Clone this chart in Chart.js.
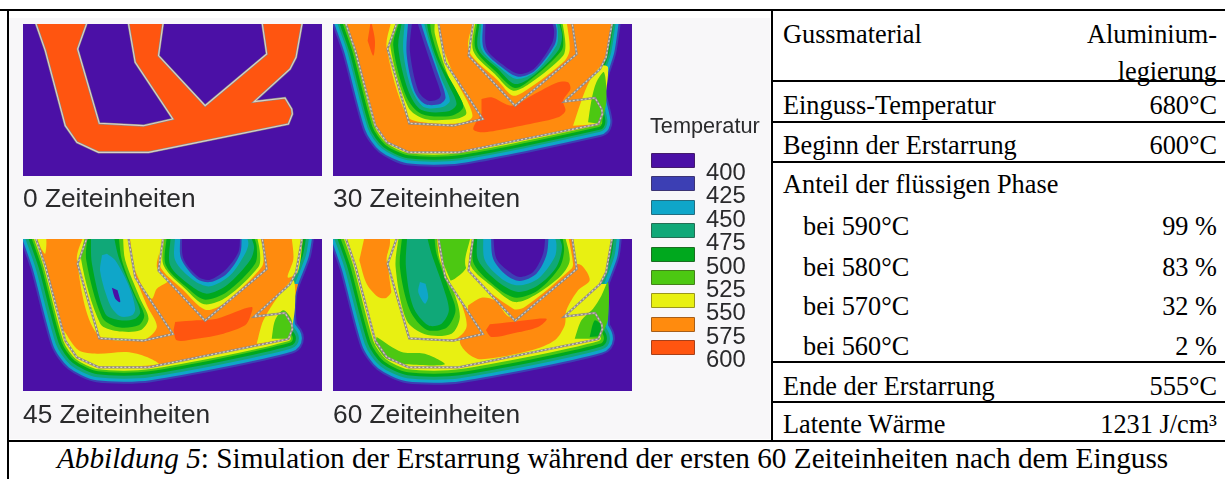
<!DOCTYPE html>
<html lang="de">
<head>
<meta charset="utf-8">
<title>Abbildung 5</title>
<script src="https://cdn.jsdelivr.net/npm/chart.js@4"></script>
<style>
  html, body { margin: 0; padding: 0; background: #fff; }
  #page { position: relative; width: 1225px; height: 479px; overflow: hidden; }
  #scan { position: absolute; left: 9px; top: 18px; width: 761px; height: 421px; background: #f8f7f9; }
  .line { position: absolute; background: #000; }
  .panel { position: absolute; width: 299px; height: 152px; background: #4b10a6; filter: blur(0.45px); }
  .panel canvas { display: block; }
  .sans { position: absolute; font-family: "Liberation Sans", sans-serif; color: #2a2a2c; white-space: nowrap; filter: blur(0.35px); }
  .swatch { position: absolute; left: 651px; width: 44px; height: 15px; border: 1px solid rgba(60,40,40,.45); border-radius: 1px; box-sizing: border-box; filter: blur(0.3px); }
  .serif { position: absolute; font-family: "Liberation Serif", serif; font-size: 26.3px; line-height: 30px; color: #000; white-space: nowrap; }
</style>
</head>
<body>
<div id="page"><div id="scan"></div></div>
<script>
// temperature bands, coldest first
const bandLabels = ["400", "425", "450", "475", "500", "525", "550", "575", "600"];
const bandColors = ["#4b10a6", "#3c3fb4", "#0fa6c9", "#10a878", "#00a81e", "#4cc812", "#e8f012", "#ff8b0e", "#ff5510"];

const panelLabels = ["0 Zeiteinheiten", "30 Zeiteinheiten", "45 Zeiteinheiten", "60 Zeiteinheiten"];

// casting outline
const casting = [[35,-12],[67,80],[127,305],[162,355],[227,385],[377,385],[797,300],[809,270],[807,255],[787,222],[694,233],[802,135],[820,100],[840,-12],[717,-12],[732,90],[547,245],[407,95],[422,-12],[315,-12],[337,115],[450,285],[362,305],[229,298],[164,75],[195,-12]];
// gap between the arm and the right limb
const notch = [[690,236],[802,135],[826,135],[800,240]];
// the two openings enclosed by the casting
const leftHole = [[195,-12],[164,75],[229,298],[362,305],[450,285],[337,115],[315,-12]];
const rightHole = [[422,-12],[407,95],[547,245],[732,90],[717,-12]];

// centre line of the outer bands per panel
const outer30 = [[35,-12],[67,80],[127,305],[162,355],[227,385],[377,385],[797,300],[800,290],[790,245],[782,210],[790,150],[812,80],[826,-12]];
const outer45 = [[35,-12],[67,80],[127,305],[162,355],[227,385],[377,385],[797,300],[780,270],[775,214],[782,144],[820,44],[830,-12]];
const outer60 = [[35,-12],[67,80],[127,305],[162,355],[227,385],[377,385],[797,300],[785,270],[783,214],[778,144],[813,44],[820,-12]];

// half widths of the bands outside the casting: 425, 450, 475, 500, 525, 550
const front30 = [13, 11, 8, 6, 3, 1];
const front45 = [15, 13, 10, 7, 4, 2];
const front60 = [16, 14, 11, 8, 5, 2];

// contour regions per panel: [temperature, points], painted in this order
const regions30 = [
  ["575", casting],
  ["575", notch],
  ["575", leftHole],
  ["575", rightHole],
  ["550", [[721,305],[746,230],[771,170],[806,125],[826,130],[816,230],[806,300]]],
  ["525", [[766,295],[776,230],[791,175],[814,145],[821,230],[806,300]]],
  ["550", [[176,-12],[161,70],[221,275],[270,295],[380,298],[418,280],[405,235],[370,170],[320,40],[318,-12]]],
  ["525", [[191,-12],[172,65],[226,250],[276,285],[366,285],[400,270],[386,230],[346,155],[306,30],[306,-12]]],
  ["500", [[201,-12],[181,65],[221,220],[266,270],[356,275],[391,250],[371,200],[326,120],[296,30],[291,-12]]],
  ["475", [[208,-12],[196,70],[226,200],[266,258],[346,262],[371,240],[346,180],[306,90],[286,20],[281,-12]]],
  ["450", [[216,-12],[211,80],[234,190],[271,248],[326,250],[351,230],[326,165],[291,60],[271,-12]]],
  ["425", [[226,-12],[221,90],[244,200],[276,240],[321,240],[338,220],[316,150],[281,50],[261,-12]]],
  ["400", [[238,-12],[231,80],[256,200],[286,230],[316,225],[324,210],[301,140],[271,50],[251,-12]]],
  ["550", [[421,-12],[408,80],[496,170],[541,215],[586,195],[696,110],[711,75],[701,-12]]],
  ["525", [[428,-12],[421,80],[486,150],[541,200],[596,175],[691,95],[698,60],[688,-12]]],
  ["500", [[434,-12],[428,75],[491,145],[546,192],[596,165],[686,80],[691,40],[681,-12]]],
  ["475", [[441,-12],[436,75],[496,135],[546,180],[601,155],[676,80],[688,35],[676,-12]]],
  ["450", [[446,-12],[446,75],[506,135],[551,165],[606,145],[671,65],[676,25],[671,-12]]],
  ["425", [[451,-12],[453,75],[511,133],[556,158],[606,140],[666,62],[672,22],[666,-12]]],
  ["400", [[458,-12],[462,75],[518,128],[561,150],[606,132],[658,58],[664,20],[656,-12]]],
  ["600", [[446,225],[476,220],[536,245],[596,215],[676,175],[706,175],[713,195],[691,230],[698,260],[676,280],[616,295],[516,315],[446,325],[421,315],[446,270]]],
  ["600", [[114,-12],[126,50],[121,95],[104,50]]]
];

const regions45 = [
  ["575", casting],
  ["575", notch],
  ["575", leftHole],
  ["575", rightHole],
  ["550", [[37,-12],[67,-12],[67,44],[55,30]]],
  ["550", [[122,274],[167,334],[222,344],[312,339],[372,354],[407,376],[232,382],[162,359],[127,309]]],
  ["550", [[320,-12],[417,-12],[402,84],[437,124],[402,149],[387,179],[362,149],[332,84]]],
  ["550", [[806,-12],[812,60],[795,115],[825,100],[842,-12]]],
  ["550", [[702,314],[722,244],[772,164],[812,124],[817,204],[802,299]]],
  ["525", [[747,299],[757,244],[782,214],[807,244],[802,299]]],
  ["550", [[182,-12],[162,64],[222,284],[362,302],[402,264],[372,199],[332,94],[317,-12]]],
  ["525", [[187,-12],[175,64],[232,254],[282,276],[352,274],[377,239],[352,179],[307,64],[300,-12]]],
  ["500", [[194,-12],[190,64],[237,234],[282,264],[347,259],[364,229],[337,169],[297,64],[287,-12]]],
  ["475", [[204,-12],[207,74],[247,224],[292,244],[337,239],[352,219],[327,154],[287,54],[272,-12]]],
  ["450", [[237,49],[232,99],[262,199],[292,232],[327,229],[337,209],[317,139],[277,64],[252,44]]],
  ["400", [[267,146],[277,179],[292,189],[284,154]]],
  ["550", [[419,-12],[410,79],[482,154],[547,212],[602,194],[717,84],[722,44],[712,-12]]],
  ["525", [[425,-12],[422,79],[492,154],[544,196],[612,174],[707,84],[712,44],[702,-12]]],
  ["500", [[432,-12],[429,79],[502,154],[547,182],[612,159],[697,74],[702,24],[692,-12]]],
  ["475", [[444,-12],[442,79],[502,139],[552,164],[612,139],[682,64],[694,24],[682,-12]]],
  ["450", [[457,-12],[457,64],[512,124],[562,142],[622,109],[667,44],[677,14],[670,-12]]],
  ["425", [[472,-12],[475,59],[522,119],[562,129],[612,104],[652,44],[657,-12]]],
  ["400", [[477,-12],[482,59],[527,114],[562,122],[607,94],[647,39],[652,-12]]],
  ["600", [[457,249],[522,244],[582,239],[687,204],[682,234],[667,259],[602,284],[522,299],[462,304],[452,274]]]
];

const regions60 = [
  ["550", casting],
  ["550", notch],
  ["575", leftHole],
  ["575", rightHole],
  ["575", [[96,-12],[166,-12],[171,14],[161,64],[181,144],[161,176],[136,174],[101,134],[79,64]]],
  ["525", [[131,294],[206,339],[276,344],[336,376],[226,376],[161,359],[126,314]]],
  ["525", [[316,-12],[416,-12],[401,84],[366,119],[341,124],[321,64]]],
  ["575", [[406,199],[446,176],[486,184],[536,234],[716,79],[746,79],[771,124],[736,154],[701,214],[696,259],[666,304],[596,334],[446,361],[406,344],[381,309],[401,274]]],
  ["525", [[726,299],[746,244],[781,209],[806,170],[826,130],[826,240],[806,289],[801,299]]],
  ["500", [[771,294],[786,244],[806,259],[801,292]]],
  ["550", [[186,-12],[163,64],[221,292],[366,299],[401,264],[386,194],[366,154],[321,44],[311,-12]]],
  ["525", [[198,-12],[188,84],[221,244],[276,286],[356,284],[381,234],[361,154],[321,64],[311,-12]]],
  ["500", [[208,-12],[201,84],[231,214],[281,272],[341,266],[368,214],[346,144],[311,44],[304,-12]]],
  ["475", [[223,-12],[219,84],[241,204],[286,259],[326,254],[348,214],[331,144],[296,44],[281,-12]]],
  ["450", [[261,129],[256,159],[276,194],[286,174],[278,134]]],
  ["550", [[414,-12],[401,89],[541,209],[576,204],[716,89],[721,74],[706,-12]]],
  ["525", [[419,-12],[413,79],[486,149],[546,189],[606,169],[686,109],[711,64],[696,-12]]],
  ["500", [[423,-12],[423,74],[496,149],[551,176],[616,154],[681,84],[694,34],[688,-12]]],
  ["475", [[433,-12],[436,64],[496,129],[556,159],[616,139],[671,84],[688,24],[676,-12]]],
  ["450", [[451,-12],[456,64],[506,119],[556,139],[616,119],[666,54],[671,14],[664,-12]]],
  ["425", [[474,-12],[481,59],[521,109],[561,126],[611,104],[641,49],[648,-12]]],
  ["400", [[481,-12],[491,59],[531,99],[561,114],[601,99],[631,44],[638,-12]]],
  ["600", [[471,256],[536,249],[641,239],[616,264],[536,284],[476,294],[459,274]]]
];

const regions0 = [["600", casting]];

// table on the right
const tableLabels = ["Gussmaterial", "Einguss-Temperatur", "Beginn der Erstarrung", "Anteil der flüssigen Phase", "bei 590°C", "bei 580°C", "bei 570°C", "bei 560°C", "Ende der Erstarrung", "Latente Wärme"];
const tableValues = ["Aluminium-", "680°C", "600°C", "", "99 %", "83 %", "32 %", "2 %", "555°C", "1231 J/cm³"];

const page = document.getElementById("page");

function addBox(cls, css, text) {
  const el = document.createElement("div");
  el.className = cls;
  el.style.cssText = css;
  if (text !== undefined) el.textContent = text;
  page.appendChild(el);
  return el;
}

function colorOf(temp) {
  return bandColors[bandLabels.indexOf(temp)];
}

function toPoints(list) {
  return list.map(p => ({ x: p[0], y: p[1] }));
}

function drawPanel(left, top, regions, outer, front, dash) {
  const box = addBox("panel", `left:${left}px;top:${top}px`);
  const canvas = document.createElement("canvas");
  canvas.width = 299;
  canvas.height = 152;
  box.appendChild(canvas);

  const sets = [];
  // bands outside the casting: one centre line stroked wider and wider
  front.forEach((halfWidth, i) => {
    sets.push({
      data: toPoints(outer), showLine: true, pointRadius: 0, fill: false, clip: 0,
      borderColor: bandColors[i + 1], borderWidth: halfWidth * 2,
      borderJoinStyle: "round", borderCapStyle: "round", tension: 0.25
    });
  });
  regions.forEach(r => {
    const straight = [casting, notch, leftHole, rightHole].includes(r[1]);
    sets.push({
      data: toPoints(r[1]), showLine: true, pointRadius: 0, fill: "shape", clip: 0,
      backgroundColor: colorOf(r[0]), borderWidth: 0,
      tension: straight ? 0 : 0.3
    });
  });
  sets.push({
    data: toPoints(casting), showLine: true, pointRadius: 0, fill: false, clip: 0,
    borderColor: "#8f8a86", borderWidth: 2.2, tension: 0
  });
  sets.push({
    data: toPoints(casting), showLine: true, pointRadius: 0, fill: false, clip: 0,
    borderColor: "#d8d2c8", borderWidth: 1.1, borderDash: dash, tension: 0
  });

  new Chart(canvas, {
    type: "scatter",
    data: { datasets: sets.reverse() }, // first dataset ends up on top in Chart.js
    options: {
      responsive: false, animation: false,
      layout: { padding: 0 },
      plugins: { legend: { display: false }, tooltip: { enabled: false } },
      scales: {
        x: { type: "linear", min: 0, max: 898, display: false },
        y: { type: "linear", min: 0, max: 456, reverse: true, display: false }
      }
    }
  });
}

drawPanel(23, 24, regions0, casting, [], []);
drawPanel(333, 24, regions30, outer30, front30, [2, 2]);
drawPanel(23, 239, regions45, outer45, front45, [2, 2]);
drawPanel(333, 239, regions60, outer60, front60, [2, 2]);

// captions under the panels
const captionPos = [[23, 184], [333, 184], [23, 400], [333, 400]];
panelLabels.forEach((t, i) => {
  addBox("sans", `left:${captionPos[i][0]}px;top:${captionPos[i][1]}px;font-size:26.3px;line-height:28px`, t);
});

// temperature key
addBox("sans", "left:650px;top:114px;font-size:21.7px;line-height:24px", "Temperatur");
bandLabels.forEach((t, i) => {
  addBox("swatch", `top:${153 + i * 23.4}px;background:${bandColors[i]}`);
  addBox("sans", `left:706px;top:${159 + i * 23.4}px;font-size:23.8px;line-height:26px`, t);
});

// frame
addBox("line", "left:0;top:9px;width:1225px;height:2px");
addBox("line", "left:7px;top:9px;width:2px;height:470px");
addBox("line", "left:771px;top:9px;width:2px;height:431px");
[79.5, 120.5, 160.5, 360.5, 400.5, 439.5].forEach(y => {
  addBox("line", `left:772px;top:${y}px;width:453px;height:2px`);
});
addBox("line", "left:7px;top:439.5px;width:766px;height:2px");

// table text
const rowCenter = [35, 106, 146, 185, 227, 268, 307, 347, 387, 425];
tableLabels.forEach((t, i) => {
  const indent = t.startsWith("bei") ? 803 : 783;
  addBox("serif", `left:${indent}px;top:${rowCenter[i] - 15}px`, t);
  if (tableValues[i]) addBox("serif", `right:8px;top:${rowCenter[i] - 15}px`, tableValues[i]);
});
addBox("serif", "right:8px;top:57px", "legierung");

const cap = addBox("serif", "left:57px;top:443px;font-size:29.25px");
cap.innerHTML = "<i>Abbildung 5</i>: Simulation der Erstarrung während der ersten 60 Zeiteinheiten nach dem Einguss";
</script>
</body>
</html>
